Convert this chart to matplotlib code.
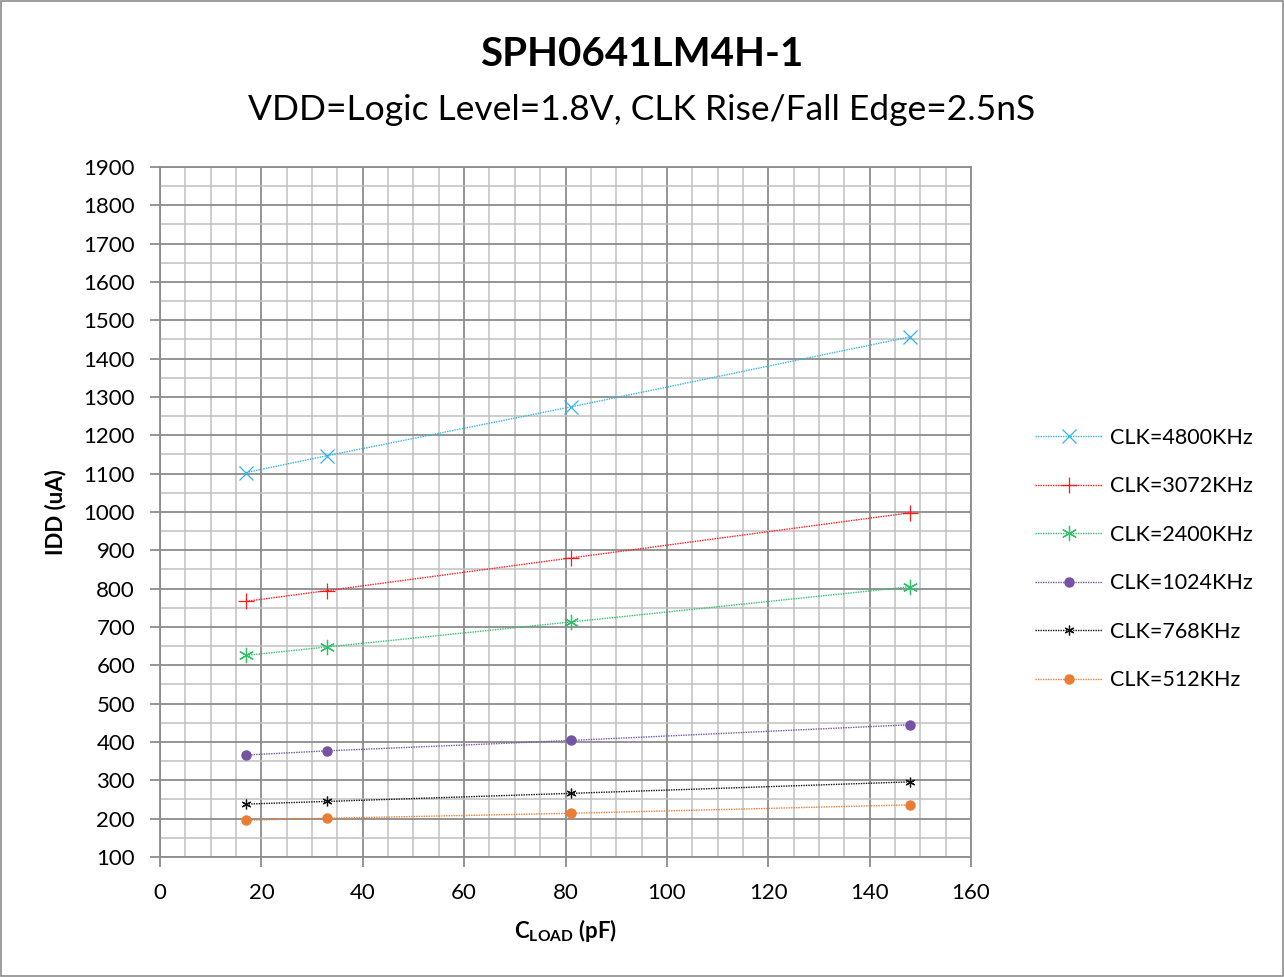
import numpy as np
import matplotlib
matplotlib.use('Agg')
import matplotlib.pyplot as plt
from matplotlib.ticker import MultipleLocator
from matplotlib.patches import Rectangle

plt.rcParams['font.family'] = ['Lato', 'DejaVu Sans']
plt.rcParams['mathtext.fontset'] = 'custom'
plt.rcParams['mathtext.rm'] = 'Lato'
plt.rcParams['mathtext.bf'] = 'Lato:bold'

# data
cload = [17, 33, 81, 148]
idd_4800 = [1103, 1147, 1274, 1457]
idd_3072 = [767, 795, 880, 998]
idd_2400 = [626, 648, 713, 805]
idd_1024 = [366, 377, 404, 445]
idd_768 = [238, 245, 266, 296]
idd_512 = [196, 201, 214, 236]

series = [
    ('CLK=4800KHz', idd_4800, '#2fb4e6', 'x', 10, 0.9),
    ('CLK=3072KHz', idd_3072, '#ff1a1a', '+', 11, 0.9),
    ('CLK=2400KHz', idd_2400, '#2fc06a', (6, 2, 0), 11, 0.9),
    ('CLK=1024KHz', idd_1024, '#7453a3', 'o', 6.5, 1.0),
    ('CLK=768KHz', idd_768, '#111111', (6, 2, 0), 7, 0.9),
    ('CLK=512KHz', idd_512, '#ea7d33', 'o', 6.5, 1.0),
]

fig = plt.figure(figsize=(12.84, 9.77), dpi=100)
ax = fig.add_axes([160/1284, 1-857/977, (971-160)/1284, (857-167)/977])

for label, vals, color, marker, ms, mew in series:
    ax.plot(cload, vals, linestyle=(0, (1, 0.8)), linewidth=1.0, color=color,
            marker=marker, markersize=ms, markeredgewidth=mew,
            markerfacecolor=color, markeredgecolor=color, label=label)

ax.set_xlim(0, 160)
ax.set_ylim(100, 1900)
ax.xaxis.set_major_locator(MultipleLocator(20))
ax.xaxis.set_minor_locator(MultipleLocator(5))
ax.yaxis.set_major_locator(MultipleLocator(100))
ax.yaxis.set_minor_locator(MultipleLocator(50))
ax.grid(which='major', color='#8c8c8c', linewidth=1.3)
ax.grid(which='minor', color='#c0c0c0', linewidth=1.1)
ax.set_axisbelow(True)
for s in ax.spines.values():
    s.set_color('#8c8c8c')
    s.set_linewidth(1.3)
ax.tick_params(which='major', length=7, width=1.3, color='#8c8c8c', labelsize=16)
ax.tick_params(axis='y', pad=11)
ax.tick_params(axis='x', pad=12)
ax.tick_params(which='minor', length=0)

ax.set_xlabel(r'C$_{\mathbf{LOAD}}$ (pF)', fontsize=16, fontweight='bold', labelpad=10)
ax.set_ylabel('IDD (uA)', fontsize=16, fontweight='bold', labelpad=12)

fig.text(0.5, 1-55/977, 'SPH0641LM4H-1', ha='center', va='center', fontsize=29, fontweight='bold')
fig.text(0.5, 1-110/977, 'VDD=Logic Level=1.8V, CLK Rise/Fall Edge=2.5nS', ha='center', va='center', fontsize=25.5)

fig.legend(loc='center left', bbox_to_anchor=(1016/1284, 1-559/977), frameon=False,
           fontsize=15.5, labelspacing=1.32, handlelength=3.1, handletextpad=0.35)

fig.patches.append(Rectangle((0.001, 0.001), 0.998, 0.998, transform=fig.transFigure,
                             fill=False, edgecolor='#8c8c8c', linewidth=1.2))

fig.savefig('out.png', dpi=100)
